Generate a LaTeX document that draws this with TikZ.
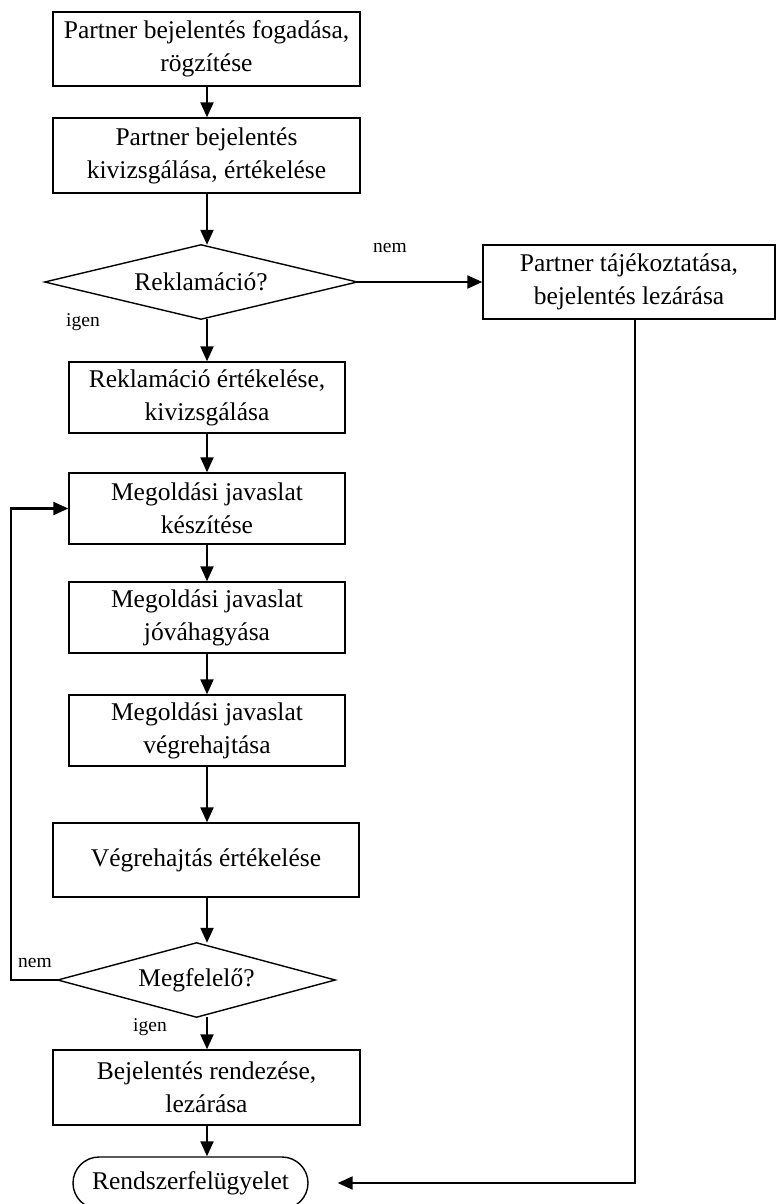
\documentclass[tikz,border=0pt]{standalone}
\usepackage{fontspec}
\setmainfont{Liberation Serif}
\usetikzlibrary{arrows.meta}
\begin{document}
\begin{tikzpicture}[x=1pt,y=-1pt,
  every node/.style={font=\fontsize{25.5}{33}\selectfont, align=center, inner sep=0pt},
  stepbox/.style={draw, line width=1.4pt, minimum height=72pt},
  decbox/.style={minimum height=74pt},
  termbox/.style={draw, line width=1.4pt, rounded corners=26pt, minimum width=235pt, minimum height=52pt},
  lbl/.style={font=\fontsize{19.5}{22}\selectfont},
  flow/.style={line width=2.2pt, -{Triangle[length=15pt,width=13pt]}},
  plain/.style={line width=2.2pt}
]
\useasboundingbox (0,0) rectangle (776,1204);

% main column
\node[stepbox, minimum width=307pt, minimum height=74pt] (b1) at (206.5,49) {Partner bejelentés fogadása,\\rögzítése};
\node[stepbox, minimum width=307pt, minimum height=75pt] (b2) at (206.5,155.5) {Partner bejelentés\\kivizsgálása, értékelése};
\node[decbox, minimum width=312pt] (d1) at (201,282) {Reklamáció?};
\draw[line width=1.4pt] (d1.west) -- (d1.north) -- (d1.east) -- (d1.south) -- cycle;
\node[stepbox, minimum width=292pt, minimum height=74pt] (b3) at (629,282) {Partner tájékoztatása,\\bejelentés lezárása};
\node[stepbox, minimum width=276pt, minimum height=71pt] (b4) at (207,397.5) {Reklamáció értékelése,\\kivizsgálása};
\node[stepbox, minimum width=276pt, minimum height=71pt] (b5) at (207,508.5) {Megoldási javaslat\\készítése};
\node[stepbox, minimum width=276pt, minimum height=71pt] (b6) at (207,617.5) {Megoldási javaslat\\jóváhagyása};
\node[stepbox, minimum width=276pt, minimum height=71pt] (b7) at (207,730.5) {Megoldási javaslat\\végrehajtása};
\node[stepbox, minimum width=306pt, minimum height=74pt] (b8) at (206,860) {Végrehajtás értékelése};
\node[decbox, minimum width=277pt] (d2) at (196.5,980) {Megfelelő?};
\draw[line width=1.4pt] (d2.west) -- (d2.north) -- (d2.east) -- (d2.south) -- cycle;
\node[stepbox, minimum width=307pt, minimum height=75pt] (b9) at (206.5,1087.5) {Bejelentés rendezése,\\lezárása};
\node[termbox] (t1) at (190.5,1183) {Rendszerfelügyelet};

% branch labels
\node[lbl] (ln1) at (390,248) {nem};
\node[lbl] (li1) at (83,322) {igen};
\node[lbl] (ln2) at (35,963) {nem};
\node[lbl] (li2) at (150,1027) {igen};

% helper points for the return paths
\coordinate (r1) at (635,1183);
\coordinate (r2) at (11,980);
\coordinate (col) at (207,0);

% connectors
\draw[flow] (b1.south -| col) -- (b2.north -| col);
\draw[flow] (b2.south -| col) -- (d1.north -| col);
\draw[flow] (d1.east) -- (b3.west);
\draw[flow] (d1.south -| col) -- (b4.north -| col);
\draw[flow] (b4.south -| col) -- (b5.north -| col);
\draw[flow] (b5.south -| col) -- (b6.north -| col);
\draw[flow] (b6.south -| col) -- (b7.north -| col);
\draw[flow] (b7.south -| col) -- (b8.north -| col);
\draw[flow] (b8.south -| col) -- (d2.north -| col);
\draw[flow] (d2.south -| col) -- (b9.north -| col);
\draw[flow] (b9.south -| col) -- (t1.north -| col);
\draw[flow] (d2.west) -- (r2) |- (b5.west);
\draw[flow] (b3.south -| r1) -- (r1) -- ([xshift=29pt]t1.east);
\end{tikzpicture}
\end{document}
